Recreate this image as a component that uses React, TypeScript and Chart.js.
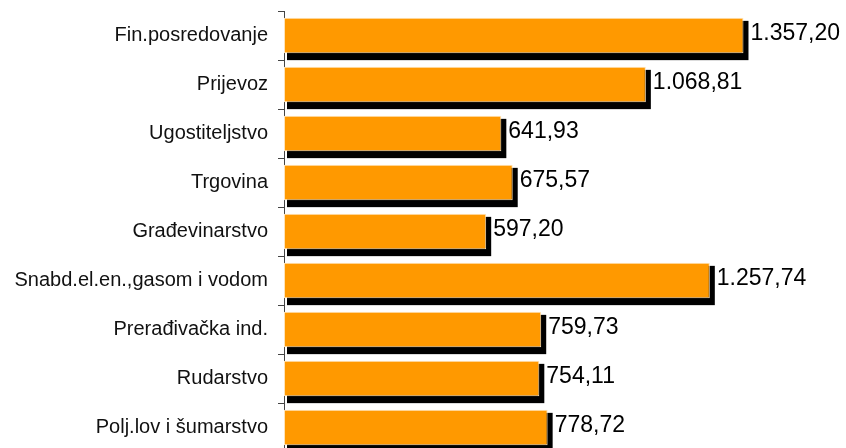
import React, { useEffect, useRef } from "react";
import { Chart, registerables } from "chart.js";

Chart.register(...registerables);

const categories = [
  "Fin.posredovanje",
  "Prijevoz",
  "Ugostiteljstvo",
  "Trgovina",
  "Građevinarstvo",
  "Snabd.el.en.,gasom i vodom",
  "Prerađivačka ind.",
  "Rudarstvo",
  "Polj.lov i šumarstvo",
];

const values = [1357.2, 1068.81, 641.93, 675.57, 597.2, 1257.74, 759.73, 754.11, 778.72];

const xMin = 0;
const xMax = 1660;

function formatValue(v: number): string {
  const fixed = v.toFixed(2);
  const [intPart, dec] = fixed.split(".");
  const withSep = intPart.replace(/\B(?=(\d{3})+(?!\d))/g, ".");
  return withSep + "," + dec;
}

const valueLabels = values.map(formatValue);

const shadowPlugin = {
  id: "barShadow",
  beforeDatasetsDraw(chart: any) {
    const ctx = chart.ctx;
    const meta = chart.getDatasetMeta(0);
    ctx.save();
    ctx.fillStyle = "#000000";
    meta.data.forEach((el: any) => {
      const p = el.getProps(["x", "y", "base", "height"], true);
      const top = p.y - p.height / 2;
      const bottom = p.y + p.height / 2;
      const left = p.base + 3;
      const right = p.x + 5;
      ctx.fillRect(left, top + 3, right - left, bottom + 7 - (top + 3));
    });
    ctx.restore();
  },
  afterDatasetsDraw(chart: any) {
    const ctx = chart.ctx;
    const meta = chart.getDatasetMeta(0);
    ctx.save();
    ctx.fillStyle = "#000000";
    ctx.font = '23px "Liberation Sans", Arial, sans-serif';
    ctx.textAlign = "left";
    ctx.textBaseline = "middle";
    meta.data.forEach((el: any, i: number) => {
      const p = el.getProps(["x", "y"], true);
      ctx.fillText(valueLabels[i], p.x + 7, p.y - 2);
    });
    ctx.restore();
  },
};

export default function App() {
  const canvasRef = useRef<HTMLCanvasElement | null>(null);

  useEffect(() => {
    if (!canvasRef.current) return;
    const chart = new Chart(canvasRef.current, {
      type: "bar",
      data: {
        labels: categories,
        datasets: [
          {
            data: values,
            backgroundColor: "#FF9900",
            borderColor: "#FFE3B8",
            borderWidth: 1,
            borderSkipped: false,
            barPercentage: 0.72,
            categoryPercentage: 1,
          },
        ],
      },
      options: {
        indexAxis: "y",
        animation: false,
        responsive: false,
        maintainAspectRatio: false,
        layout: { padding: { top: 11, bottom: 8, left: 0, right: 0 } },
        plugins: {
          legend: { display: false },
          tooltip: { enabled: false },
        },
        scales: {
          x: {
            display: false,
            min: xMin,
            max: xMax,
          },
          y: {
            offset: true,
            afterFit(scale: any) {
              scale.width = 284;
              scale.paddingTop = 0;
              scale.paddingBottom = 0;
            },
            grid: {
              display: true,
              drawOnChartArea: false,
              drawTicks: true,
              tickLength: 6,
              offset: true,
              color: "#444444",
            },
            border: { display: true, color: "#444444", width: 1 },
            ticks: {
              padding: 10,
              color: "#111111",
              font: { family: '"Liberation Sans", Arial, sans-serif', size: 20 },
            },
          },
        },
      },
      plugins: [shadowPlugin],
    });
    return () => chart.destroy();
  }, []);

  return (
    <div style={{ position: "fixed", left: 0, top: 0, width: 846, height: 460, background: "#fff" }}>
      <canvas ref={canvasRef} width={846} height={460} style={{ display: "block" }} />
    </div>
  );
}
